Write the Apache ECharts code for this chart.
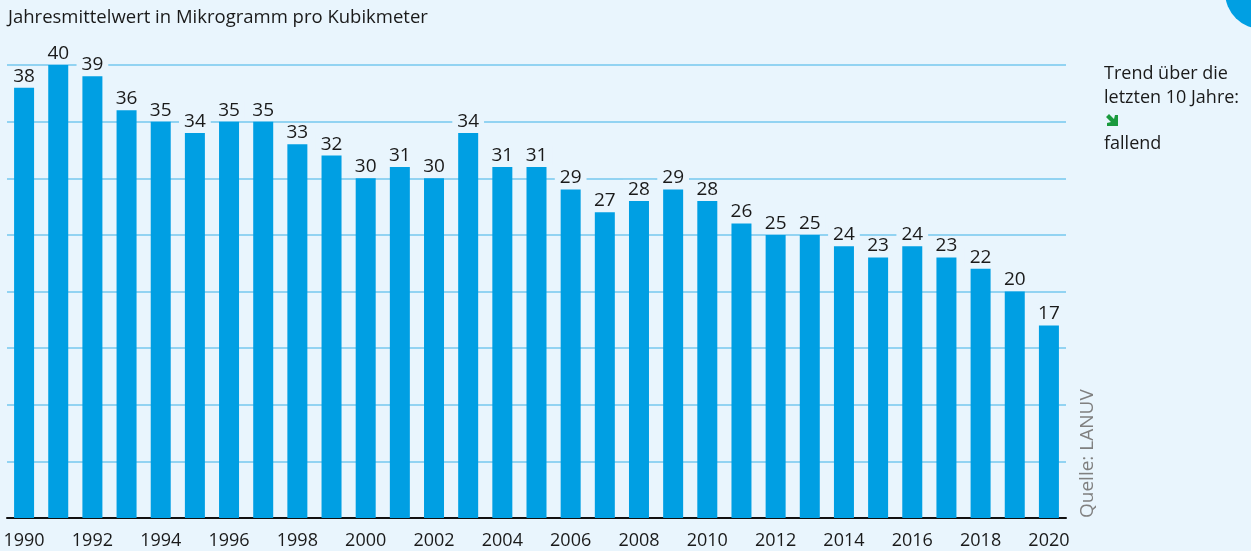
<!DOCTYPE html>
<html>
<head>
<meta charset="utf-8">
<script src="https://cdn.jsdelivr.net/npm/echarts@6/dist/echarts.min.js"></script>
<style>
html, body { margin: 0; padding: 0; background: #e9f5fd; }
#chart { width: 1251px; height: 551px; }
</style>
</head>
<body>
<div id="chart"></div>
<script>
var years = [];
for (var y = 1990; y <= 2020; y++) years.push(String(y));
var values = [38, 40, 39, 36, 35, 34, 35, 35, 33, 32, 30, 31, 30, 34, 31, 31, 29, 27, 28, 29, 28, 26, 25, 25, 24, 23, 24, 23, 22, 20, 17];
var trendLines = ['Trend über die', 'letzten 10 Jahre:'];

var bg = '#e9f5fd';
var font = '"Open Sans", "Noto Sans", sans-serif';
var chart = echarts.init(document.getElementById('chart'));

chart.setOption({
	backgroundColor: bg,
	animation: false,
	textStyle: { fontFamily: font },
	grid: { left: 7, right: 185, top: 65, bottom: 33 },
	xAxis: {
		type: 'category',
		data: years,
		axisLine: { lineStyle: { color: '#111', width: 2 } },
		axisTick: { show: false },
		axisLabel: { interval: 1, color: '#1a1a1a', fontSize: 18, margin: 14, fontFamily: font }
	},
	yAxis: {
		type: 'value',
		min: 0,
		max: 40,
		interval: 5,
		axisLabel: { show: false },
		axisLine: { show: false },
		axisTick: { show: false },
		splitLine: { lineStyle: { color: '#74c7ee', width: 1.5 } }
	},
	series: [{
		type: 'bar',
		data: values,
		barWidth: 20,
		itemStyle: { color: '#009fe3' },
		label: {
			show: true,
			position: 'top',
			distance: 2,
			color: '#1a1a1a',
			fontSize: 19,
			fontFamily: font,
			backgroundColor: bg,
			padding: [0, 5, 0, 5]
		}
	}],
	graphic: [
		{ type: 'text', left: 8, top: 8, style: { text: 'Jahresmittelwert in Mikrogramm pro Kubikmeter', fill: '#1a1a1a', font: '18.5px ' + font } },
		{ type: 'text', left: 1104, top: 62, style: { text: trendLines.join('\n'), fill: '#1a1a1a', font: '18px ' + font, lineHeight: 24 } },
		{ type: 'polygon', shape: { points: [[1106, 117], [1109, 114], [1114, 119], [1115, 115], [1118, 115], [1118, 126], [1107, 126], [1107, 123], [1111, 122]] }, style: { fill: '#1a9a3e' } },
		{ type: 'text', left: 1104, top: 135, style: { text: 'fallend', fill: '#1a1a1a', font: '18px ' + font } },
		{ type: 'text', x: 1097, y: 518, rotation: Math.PI / 2, style: { text: 'Quelle: LANUV', fill: '#808080', font: '19px ' + font, align: 'left', verticalAlign: 'bottom' } },
		{ type: 'circle', shape: { cx: 1262, cy: -8, r: 37 }, style: { fill: '#009fe3' } }
	]
});
</script>
</body>
</html>
